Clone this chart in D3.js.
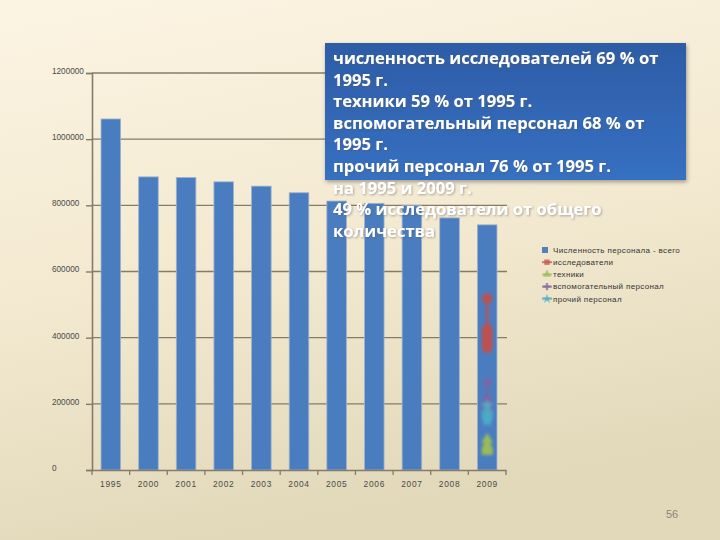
<!DOCTYPE html>
<html><head><meta charset="utf-8">
<script src="https://cdn.jsdelivr.net/npm/d3@7"></script>
<style>html,body{margin:0;padding:0;}svg{display:block;}</style>
</head><body>
<script>
const years = ["1995","2000","2001","2002","2003","2004","2005","2006","2007","2008","2009"];
const totalStaff = [1061000, 886000, 884000, 871000, 858000, 838000, 813000, 806000, 800000, 762000, 741000];
const researchers = [518690, 425954, 422177, 414676, 409775, 401425, 391121, 388939, 392849, 375804, 369237];
const technicians = [92000, 75000, 72000, 71000, 70000, 68000, 66000, 64000, 62000, 59000, 56000];
const supportStaff = [265000, 214000, 209000, 205000, 201000, 197000, 190000, 188000, 184000, 181000, 178000];
const otherStaff = [195000, 172000, 171000, 168000, 167000, 165000, 160000, 159000, 158000, 153000, 148000];
const yTicks = [0, 200000, 400000, 600000, 800000, 1000000, 1200000];
const legendLabels = ["Численность персонала - всего", "исследователи", "техники", "вспомогательный персонал", "прочий персонал"];
const noteLines = ["численность исследователей 69 % от", "1995 г.", "техники 59 % от 1995 г.", "вспомогательный персонал 68 % от", "1995 г.", "прочий персонал 76 % от 1995 г.", "на 1995 и 2009 г.", "49 % исследователи от общего", "количества"];
const pageNumber = "56";

const W = 720, H = 540;
const svg = d3.select("body").append("svg").attr("width", W).attr("height", H);
const defs = svg.append("defs");
const bg = defs.append("linearGradient").attr("id","bg").attr("x1",0).attr("y1",0).attr("x2",0.25).attr("y2",1);
bg.append("stop").attr("offset","0%").attr("stop-color","#fcf4e3");
bg.append("stop").attr("offset","55%").attr("stop-color","#f3e9d0");
bg.append("stop").attr("offset","100%").attr("stop-color","#e2d8ba");
const bx = defs.append("linearGradient").attr("id","box").attr("x1",0).attr("y1",0).attr("x2",0).attr("y2",1);
bx.append("stop").attr("offset","0%").attr("stop-color","#2d5ca6");
bx.append("stop").attr("offset","100%").attr("stop-color","#3670c2");
const sh = defs.append("filter").attr("id","shadow").attr("x","-10%").attr("y","-10%").attr("width","120%").attr("height","130%");
sh.append("feDropShadow").attr("dx",1).attr("dy",2).attr("stdDeviation",2).attr("flood-color","#000").attr("flood-opacity",0.35);
const blur = defs.append("filter").attr("id","blur").attr("x","-100%").attr("y","-20%").attr("width","300%").attr("height","140%");
blur.append("feGaussianBlur").attr("stdDeviation",1.4);
const tsh = defs.append("filter").attr("id","tshadow");
tsh.append("feDropShadow").attr("dx",1).attr("dy",1).attr("stdDeviation",0.8).attr("flood-color","#555").attr("flood-opacity",0.5);

svg.append("rect").attr("width",W).attr("height",H).attr("fill","url(#bg)");

const x = d3.scaleBand().domain(years).range([92, 506]).paddingInner(0.48).paddingOuter(0.24);
const y = d3.scaleLinear().domain([0, 1200000]).range([470, 73]);
const gridColor = "#857b6a";
const labelFont = "Liberation Sans, Arial, sans-serif";

// gridlines
svg.append("g").selectAll("line").data(yTicks.filter(d => d > 0)).join("line")
  .attr("x1", 92).attr("x2", 507).attr("y1", d => y(d)).attr("y2", d => y(d))
  .attr("stroke", gridColor).attr("stroke-width", 1.4);

// y axis
const yAxis = svg.append("g").attr("transform","translate(92,0)")
  .call(d3.axisLeft(y).tickValues(yTicks).tickSize(6).tickFormat(d => String(d)));
yAxis.select(".domain").attr("stroke", gridColor).attr("stroke-width", 1.6);
yAxis.selectAll(".tick line").attr("stroke", gridColor).attr("stroke-width", 1.4);
yAxis.selectAll(".tick text").attr("x", -40).attr("text-anchor","start").attr("dy","0.05em")
  .attr("font-family", labelFont).attr("font-size", 8.2).attr("fill","#4a4a4a");

// bars
svg.append("g").selectAll("rect").data(years).join("rect")
  .attr("x", d => x(d)).attr("width", x.bandwidth())
  .attr("y", (d,i) => y(totalStaff[i])).attr("height", (d,i) => y(0) - y(totalStaff[i]))
  .attr("fill","#4a7dc0").attr("stroke","#9fb2cc").attr("stroke-width",0.8);

// x axis
const xAxis = svg.append("g").attr("transform","translate(0,470)")
  .call(d3.axisBottom(x).tickSize(0).tickPadding(11));
xAxis.select(".domain").attr("stroke", gridColor).attr("stroke-width", 1.6);
xAxis.selectAll(".tick text").attr("font-family", labelFont).attr("font-size", 8.4)
  .attr("letter-spacing", 0.7).attr("fill","#4a4a4a");
const boundaries = years.map(d => x(d) - x.step()*x.paddingInner()/2).concat([506]);
boundaries[0] = 92;
xAxis.append("g").selectAll("line").data(boundaries).join("line")
  .attr("x1", d => d).attr("x2", d => d).attr("y1", 0).attr("y2", 5)
  .attr("stroke", gridColor).attr("stroke-width", 1.3);

// line series, all plotted at the last category position
const lineSeries = [
  {vals: researchers, color: "#c0504d", sym: d3.symbolCircle, size: 70},
  {vals: technicians, color: "#9bbb59", sym: d3.symbolTriangle, size: 45},
  {vals: supportStaff, color: "#8064a2", sym: d3.symbolCross, size: 35},
  {vals: otherStaff, color: "#4bacc6", sym: d3.symbolStar, size: 35}
];
const lx = x(years[years.length-1]) + x.bandwidth()/2;
const lg = svg.append("g").attr("filter","url(#blur)");
lineSeries.forEach(s => {
  lg.append("path").datum(s.vals)
    .attr("d", d3.line().x(() => lx).y(v => y(v)))
    .attr("fill","none").attr("stroke", s.color).attr("stroke-width", 2.5);
  lg.append("g").selectAll("path").data(s.vals).join("path")
    .attr("transform", v => `translate(${lx},${y(v)})`)
    .attr("d", d3.symbol().type(s.sym).size(s.size))
    .attr("fill", s.color).attr("stroke", s.color).attr("stroke-width", 1);
});

// legend
const legColors = ["#4f81bd","#c0504d","#9bbb59","#8064a2","#4bacc6"];
const legSyms = [null, d3.symbolSquare, d3.symbolTriangle, d3.symbolCross, d3.symbolStar];
const leg = svg.append("g");
legendLabels.forEach((t,i) => {
  const yy = 250 + i*12.2;
  if (i === 0) {
    leg.append("rect").attr("x", 542).attr("y", yy-3).attr("width", 6).attr("height", 6).attr("fill", legColors[0]);
  } else {
    leg.append("line").attr("x1", 542).attr("x2", 552).attr("y1", yy).attr("y2", yy).attr("stroke", legColors[i]).attr("stroke-width", 2).attr("opacity",0.7);
    leg.append("path").attr("transform", `translate(547,${yy})`).attr("d", d3.symbol().type(legSyms[i]).size(30)).attr("fill", legColors[i]).attr("opacity",0.7);
  }
  leg.append("text").attr("x", 553).attr("y", yy).attr("dy","0.35em")
    .attr("font-family", labelFont).attr("font-size", 8).attr("letter-spacing", 0.35)
    .attr("fill","#333").text(t);
});

// note box
svg.append("rect").attr("x", 325).attr("y", 43).attr("width", 361).attr("height", 137)
  .attr("fill","url(#box)").attr("filter","url(#shadow)");
const note = svg.append("g").attr("filter","url(#tshadow)");
note.selectAll("text").data(noteLines).join("text")
  .attr("x", 333).attr("y", (d,i) => 64 + i*21.6)
  .attr("font-family","Open Sans, Noto Sans, sans-serif").attr("font-weight","bold")
  .attr("font-size", 16.6).attr("fill","#fff").text(d => d);

svg.append("text").attr("x", 672).attr("y", 518).attr("text-anchor","middle")
  .attr("font-family", labelFont).attr("font-size", 11).attr("fill","#8a8676").text(pageNumber);
</script>
</body></html>
